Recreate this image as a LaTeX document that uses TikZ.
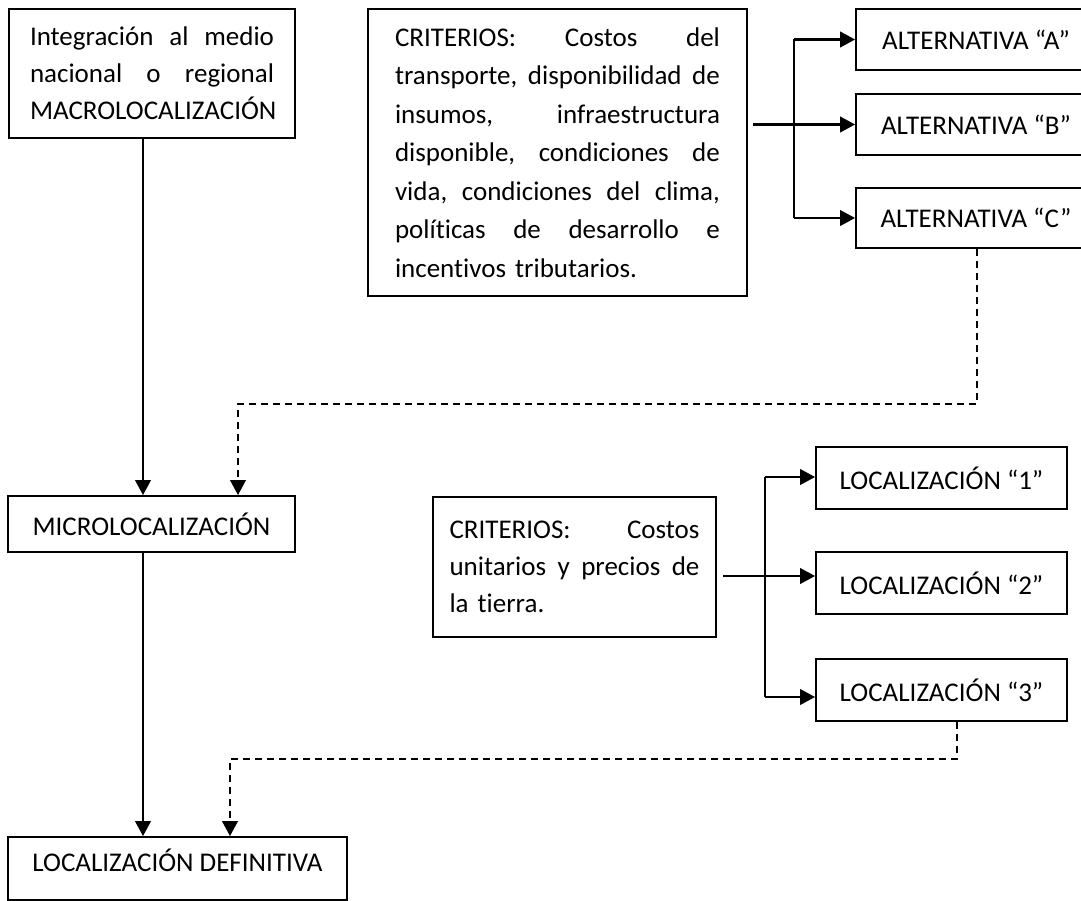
\documentclass[tikz,border=0pt]{standalone}
\usepackage{fontspec}
\setmainfont{Carlito}[Ligatures=NoCommon]
\usetikzlibrary{arrows.meta}
\newcommand{\jline}[2]{\leavevmode\hbox to #1{#2}}
\begin{document}
\begin{tikzpicture}[x=1pt,y=-1pt,
  box/.style={draw=black,line width=1.8pt,inner sep=0pt,font=\fontsize{27}{37}\selectfont},
  conn/.style={line width=2.4pt,draw=black},
  arr/.style={conn,-{Triangle[length=15pt,width=15.5pt]}},
  dsh/.style={conn,line width=2.2pt,dash pattern=on 7pt off 5pt},
  darr/.style={dsh,-{Triangle[length=15pt,width=15.5pt]}}]
\useasboundingbox (0,0) rectangle (1081,901);
\fill[white] (0,0) rectangle (1081,901);
% boxes
\node[box,minimum width=286pt,minimum height=129pt,text width=244pt,align=left] (macro) at (152,73.5)
  {\jline{244pt}{Integración\hfill al\hfill medio}\\
   \jline{244pt}{nacional\hfill o\hfill regional}\\
   MACROLOCALIZACIÓN};
\node[box,minimum width=379pt,minimum height=287pt,text width=325pt,align=left,font=\fontsize{27}{38.5}\selectfont] (crit1) at (557.5,152.5)
  {\jline{325pt}{CRITERIOS:\hfill Costos\hfill del}\\
   \jline{325pt}{transporte,\hfill disponibilidad\hfill de}\\
   \jline{325pt}{insumos,\hfill infraestructura}\\
   \jline{325pt}{disponible,\hfill condiciones\hfill de}\\
   \jline{325pt}{vida,\hfill condiciones\hfill del\hfill clima,}\\
   \jline{325pt}{políticas\hfill de\hfill desarrollo\hfill e}\\
   incentivos tributarios.};
\node[box,minimum width=240pt,minimum height=61pt] (altA) at (976,39.5) {ALTERNATIVA “A”};
\node[box,minimum width=240pt,minimum height=61pt] (altB) at (976,124.5) {ALTERNATIVA “B”};
\node[box,minimum width=240pt,minimum height=60pt] (altC) at (976,218) {ALTERNATIVA “C”};
\node[box,minimum width=287pt,minimum height=56pt] (micro) at (151.5,524) {MICROLOCALIZACIÓN};
\node[box,minimum width=283pt,minimum height=140pt,text width=250pt,align=left] (crit2) at (574.5,567)
  {\jline{250pt}{CRITERIOS:\hfill Costos}\\
   \jline{250pt}{unitarios\hfill y\hfill precios\hfill de}\\
   la tierra.};
\node[box,minimum width=251pt,minimum height=62pt] (loc1) at (941.5,478) {LOCALIZACIÓN “1”};
\node[box,minimum width=251pt,minimum height=62pt] (loc2) at (941.5,583) {LOCALIZACIÓN “2”};
\node[box,minimum width=251pt,minimum height=62pt] (loc3) at (941.5,690) {LOCALIZACIÓN “3”};
\node[box,minimum width=339pt,minimum height=63pt,text height=20pt,text depth=14pt] (final) at (177.5,868.5) {LOCALIZACIÓN DEFINITIVA};
% helper coordinates
\coordinate (vx) at (143,0);
\coordinate (c1out) at (753,124.5);
\coordinate (bA) at (794,39.5);
\coordinate (bC) at (794,218);
\coordinate (dC1) at (977,404);
\coordinate (dC2) at (238,404);
\coordinate (c2out) at (723,576);
\coordinate (b1) at (765,477);
\coordinate (b3) at (765,697);
\coordinate (d31) at (957,759);
\coordinate (d32) at (230,759);
% connectors
\draw[arr] (macro.south -| vx) -- (micro.north -| vx);
\draw[arr] (micro.south -| vx) -- (final.north -| vx);
\draw[arr] (c1out) -- (c1out -| altB.west);
\draw[conn] (bA) -- (bC);
\draw[arr] (bA) -- (altA.west);
\draw[arr] (bC) -- (altC.west);
\draw[darr] (dC1 |- altC.south) -- (dC1) -- (dC2) -- (dC2 |- micro.north);
\draw[arr] (c2out) -- (c2out -| loc2.west);
\draw[conn] (b1) -- (b3);
\draw[arr] (b1) -- (b1 -| loc1.west);
\draw[arr] (b3) -- (b3 -| loc3.west);
\draw[darr] (d31 |- loc3.south) -- (d31) -- (d32) -- (d32 |- final.north);
\end{tikzpicture}
\end{document}
